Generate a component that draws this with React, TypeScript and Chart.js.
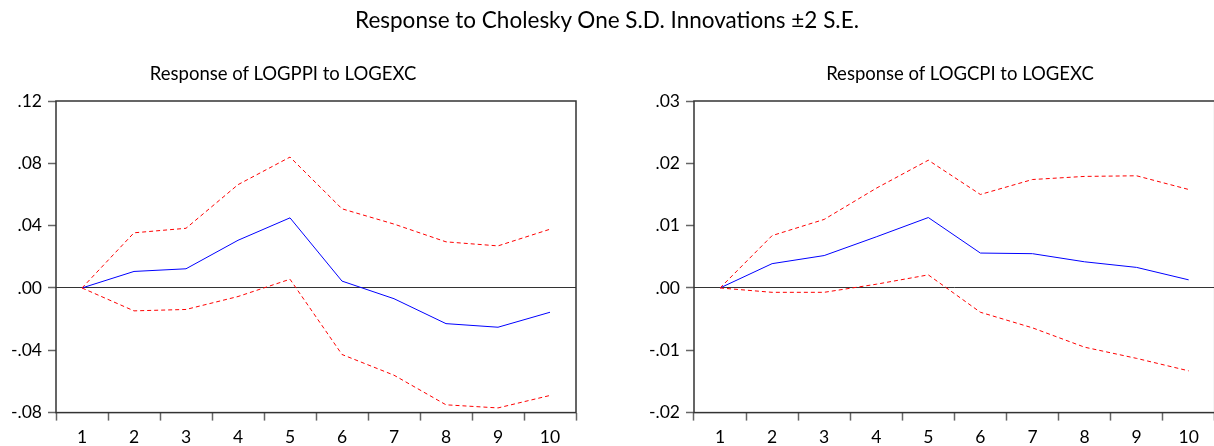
import React, { useEffect, useRef } from "react";
import { Chart, registerables } from "chart.js";

Chart.register(...registerables);

const categories = ["1", "2", "3", "4", "5", "6", "7", "8", "9", "10"];

const ppiResponse = [0, 0.0106, 0.0123, 0.0306, 0.045, 0.0044, -0.0069, -0.0229, -0.0252, -0.0156];
const ppiUpper = [0, 0.0354, 0.0383, 0.0663, 0.084, 0.0508, 0.041, 0.0296, 0.027, 0.0377];
const ppiLower = [0, -0.0147, -0.0138, -0.0055, 0.0056, -0.0427, -0.056, -0.075, -0.077, -0.069];
const ppiTicks = [0.12, 0.08, 0.04, 0, -0.04, -0.08];

const cpiResponse = [0, 0.0039, 0.0052, 0.0082, 0.0113, 0.0056, 0.0055, 0.0042, 0.0033, 0.0013];
const cpiUpper = [0, 0.0084, 0.011, 0.016, 0.0205, 0.015, 0.0174, 0.0179, 0.018, 0.0158];
const cpiLower = [0, -0.0007, -0.0007, 0.0006, 0.0021, -0.0039, -0.0064, -0.0095, -0.0113, -0.0133];
const cpiTicks = [0.03, 0.02, 0.01, 0, -0.01, -0.02];

const mainTitle = "Response to Cholesky One S.D. Innovations \u00b12 S.E.";
const ppiTitle = "Response of LOGPPI to LOGEXC";
const cpiTitle = "Response of LOGCPI to LOGEXC";

const FONT = "Lato";

function fmt(v: number): string {
  const s = Math.abs(v).toFixed(2).replace(/^0/, "");
  return v < 0 ? "-" + s : s;
}

const boxPlugin = {
  id: "boxPlugin",
  afterDraw(chart: any) {
    const { ctx, chartArea } = chart;
    ctx.save();
    ctx.strokeStyle = "#333";
    ctx.lineWidth = 1.5;
    ctx.strokeRect(chartArea.left, chartArea.top, chartArea.right - chartArea.left, chartArea.bottom - chartArea.top);
    ctx.restore();
  },
};

type PanelProps = {
  response: number[];
  upper: number[];
  lower: number[];
  ticks: number[];
  canvasLeft: number;
  canvasWidth: number;
  axisWidth: number;
  padRight: number;
};

function Panel(p: PanelProps) {
  const ref = useRef<HTMLCanvasElement | null>(null);
  useEffect(() => {
    if (!ref.current) return;
    const tmin = Math.min(...p.ticks);
    const tmax = Math.max(...p.ticks);
    const dash = {
      borderColor: "#ff0000",
      borderWidth: 1,
      borderDash: [4, 3],
      pointRadius: 0,
      tension: 0,
      fill: false,
    };
    const chart = new Chart(ref.current, {
      type: "line",
      data: {
        labels: categories,
        datasets: [
          { label: "upper", data: p.upper, ...dash },
          { label: "lower", data: p.lower, ...dash },
          {
            label: "response",
            data: p.response,
            borderColor: "#0000ff",
            borderWidth: 1,
            pointRadius: 0,
            tension: 0,
            fill: false,
          },
        ],
      },
      options: {
        animation: false,
        responsive: false,
        devicePixelRatio: 1,
        layout: { padding: { top: 101, right: p.padRight, left: 0, bottom: 0 } },
        plugins: { legend: { display: false }, tooltip: { enabled: false }, title: { display: false } },
        scales: {
          x: {
            type: "category",
            offset: true,
            border: { display: false },
            grid: {
              offset: true,
              drawOnChartArea: false,
              tickLength: 8,
              tickColor: "#666",
              tickWidth: 1.5,
            },
            ticks: { font: { family: FONT, size: 17.5 }, color: "#000", padding: 6, maxRotation: 0, autoSkip: false },
            afterFit(scale: any) {
              scale.height = 33.4;
            },
          },
          y: {
            type: "linear",
            min: tmin,
            max: tmax,
            border: { display: false },
            grid: {
              drawOnChartArea: true,
              tickLength: 8,
              tickWidth: 1.5,
              tickColor: "#666",
              color: (c: any) => (c.tick && Math.abs(c.tick.value) < 1e-9 ? "#333" : "rgba(0,0,0,0)"),
              lineWidth: 1,
            },
            ticks: {
              font: { family: FONT, size: 17.5 },
              color: "#000",
              padding: 6,
              callback: (v: any) => fmt(Number(v)),
            },
            afterBuildTicks(scale: any) {
              scale.ticks = p.ticks.map((v) => ({ value: v }));
            },
            afterFit(scale: any) {
              scale.width = p.axisWidth;
            },
          },
        },
      },
      plugins: [boxPlugin],
    });
    return () => chart.destroy();
  }, []);
  return (
    <canvas
      ref={ref}
      width={p.canvasWidth}
      height={446}
      style={{ position: "absolute", left: p.canvasLeft, top: 0, width: p.canvasWidth, height: 446 }}
    />
  );
}

const textStyle: React.CSSProperties = {
  position: "absolute",
  fontFamily: FONT,
  color: "#000",
  whiteSpace: "nowrap",
  lineHeight: 1,
  transform: "translateX(-50%)",
};

export default function App() {
  return (
    <div
      style={{
        position: "fixed",
        left: 0,
        top: 0,
        width: 1214,
        height: 446,
        overflow: "hidden",
        background: "#fff",
      }}
    >
      <Panel
        response={ppiResponse}
        upper={ppiUpper}
        lower={ppiLower}
        ticks={ppiTicks}
        canvasLeft={0}
        canvasWidth={600}
        axisWidth={56}
        padRight={24}
      />
      <Panel
        response={cpiResponse}
        upper={cpiUpper}
        lower={cpiLower}
        ticks={cpiTicks}
        canvasLeft={610}
        canvasWidth={620}
        axisWidth={84}
        padRight={15.3}
      />
      <div style={{ ...textStyle, left: 607, top: 8.5, fontSize: 22.5 }}>{mainTitle}</div>
      <div style={{ ...textStyle, left: 283, top: 64, fontSize: 18.5 }}>{ppiTitle}</div>
      <div style={{ ...textStyle, left: 960, top: 64, fontSize: 18.5 }}>{cpiTitle}</div>
    </div>
  );
}
